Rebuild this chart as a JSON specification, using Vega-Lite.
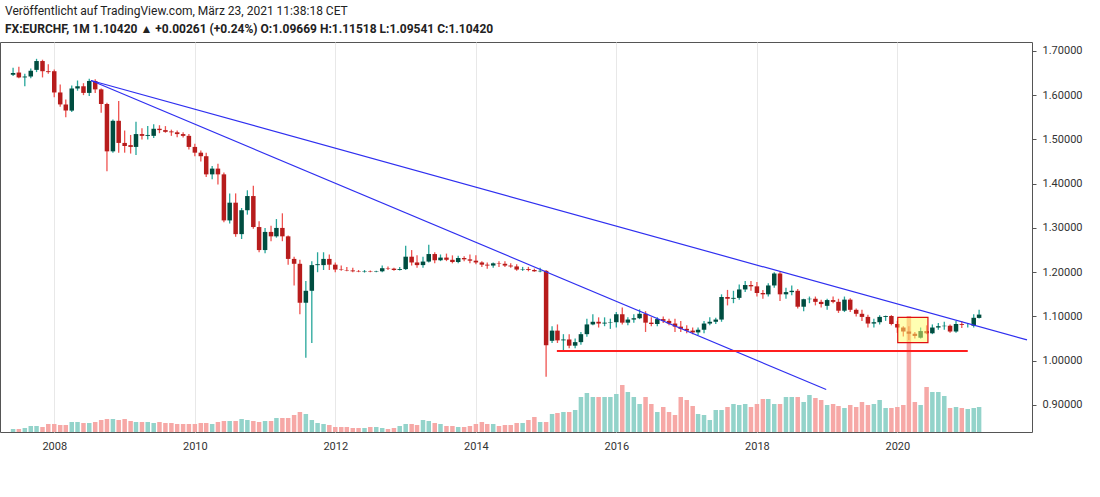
{
  "$schema": "https://vega.github.io/schema/vega-lite/v6.json",
  "width": 1032,
  "height": 390,
  "autosize": "none",
  "padding": {"left": 0, "top": 42, "right": 68, "bottom": 65},
  "background": "white",
  "config": {"view": {"stroke": "#555", "strokeWidth": 1}, "font": "Roboto"},
  "title": {
    "text": "Veröffentlicht auf TradingView.com, März 23, 2021 11:38:18 CET",
    "subtitle": "FX:EURCHF, 1M  1.10420 ▲ +0.00261 (+0.24%) O:1.09669 H:1.11518 L:1.09541 C:1.10420",
    "anchor": "start", "frame": "group", "dx": 5, "offset": 6,
    "fontSize": 12, "fontWeight": "normal", "color": "#222",
    "subtitleFontSize": 12, "subtitleFontWeight": "bold", "subtitleColor": "#222", "subtitlePadding": 6
  },
  "datasets": {
    "candles": [
      {"d":"2007-06-01","o":1.646,"h":1.662,"l":1.643,"c":1.650,"v":3},
      {"d":"2007-07-01","o":1.651,"h":1.664,"l":1.638,"c":1.640,"v":3},
      {"d":"2007-08-01","o":1.640,"h":1.648,"l":1.620,"c":1.642,"v":4},
      {"d":"2007-09-01","o":1.642,"h":1.660,"l":1.638,"c":1.655,"v":6},
      {"d":"2007-10-01","o":1.657,"h":1.682,"l":1.652,"c":1.677,"v":6},
      {"d":"2007-11-01","o":1.677,"h":1.680,"l":1.640,"c":1.654,"v":5},
      {"d":"2007-12-01","o":1.654,"h":1.670,"l":1.648,"c":1.652,"v":8},
      {"d":"2008-01-01","o":1.654,"h":1.658,"l":1.595,"c":1.606,"v":8},
      {"d":"2008-02-01","o":1.606,"h":1.624,"l":1.574,"c":1.579,"v":7},
      {"d":"2008-03-01","o":1.579,"h":1.590,"l":1.550,"c":1.565,"v":7},
      {"d":"2008-04-01","o":1.565,"h":1.622,"l":1.562,"c":1.615,"v":10},
      {"d":"2008-05-01","o":1.615,"h":1.633,"l":1.610,"c":1.620,"v":10},
      {"d":"2008-06-01","o":1.620,"h":1.627,"l":1.600,"c":1.605,"v":9},
      {"d":"2008-07-01","o":1.605,"h":1.637,"l":1.598,"c":1.632,"v":9},
      {"d":"2008-08-01","o":1.632,"h":1.636,"l":1.605,"c":1.613,"v":10},
      {"d":"2008-09-01","o":1.613,"h":1.615,"l":1.560,"c":1.580,"v":12},
      {"d":"2008-10-01","o":1.580,"h":1.583,"l":1.428,"c":1.473,"v":13},
      {"d":"2008-11-01","o":1.473,"h":1.545,"l":1.470,"c":1.542,"v":13},
      {"d":"2008-12-01","o":1.542,"h":1.587,"l":1.470,"c":1.492,"v":12},
      {"d":"2009-01-01","o":1.492,"h":1.520,"l":1.470,"c":1.485,"v":13},
      {"d":"2009-02-01","o":1.487,"h":1.510,"l":1.468,"c":1.483,"v":11},
      {"d":"2009-03-01","o":1.483,"h":1.540,"l":1.465,"c":1.512,"v":10},
      {"d":"2009-04-01","o":1.512,"h":1.525,"l":1.500,"c":1.508,"v":10},
      {"d":"2009-05-01","o":1.508,"h":1.530,"l":1.500,"c":1.510,"v":10},
      {"d":"2009-06-01","o":1.508,"h":1.534,"l":1.503,"c":1.524,"v":9},
      {"d":"2009-07-01","o":1.524,"h":1.532,"l":1.514,"c":1.521,"v":10},
      {"d":"2009-08-01","o":1.521,"h":1.530,"l":1.515,"c":1.517,"v":9},
      {"d":"2009-09-01","o":1.518,"h":1.522,"l":1.508,"c":1.516,"v":9},
      {"d":"2009-10-01","o":1.516,"h":1.520,"l":1.505,"c":1.512,"v":8},
      {"d":"2009-11-01","o":1.512,"h":1.516,"l":1.504,"c":1.508,"v":8},
      {"d":"2009-12-01","o":1.508,"h":1.512,"l":1.477,"c":1.483,"v":8},
      {"d":"2010-01-01","o":1.483,"h":1.490,"l":1.462,"c":1.470,"v":8},
      {"d":"2010-02-01","o":1.470,"h":1.475,"l":1.450,"c":1.462,"v":9},
      {"d":"2010-03-01","o":1.462,"h":1.470,"l":1.415,"c":1.421,"v":9},
      {"d":"2010-04-01","o":1.421,"h":1.440,"l":1.410,"c":1.434,"v":8},
      {"d":"2010-05-01","o":1.434,"h":1.445,"l":1.398,"c":1.421,"v":10},
      {"d":"2010-06-01","o":1.421,"h":1.425,"l":1.313,"c":1.317,"v":11},
      {"d":"2010-07-01","o":1.317,"h":1.378,"l":1.310,"c":1.357,"v":11},
      {"d":"2010-08-01","o":1.357,"h":1.378,"l":1.280,"c":1.286,"v":11},
      {"d":"2010-09-01","o":1.286,"h":1.345,"l":1.275,"c":1.340,"v":13},
      {"d":"2010-10-01","o":1.340,"h":1.385,"l":1.330,"c":1.372,"v":12},
      {"d":"2010-11-01","o":1.372,"h":1.395,"l":1.298,"c":1.302,"v":11},
      {"d":"2010-12-01","o":1.302,"h":1.315,"l":1.245,"c":1.250,"v":10},
      {"d":"2011-01-01","o":1.250,"h":1.300,"l":1.243,"c":1.291,"v":11},
      {"d":"2011-02-01","o":1.291,"h":1.305,"l":1.270,"c":1.281,"v":11},
      {"d":"2011-03-01","o":1.281,"h":1.320,"l":1.278,"c":1.300,"v":14},
      {"d":"2011-04-01","o":1.300,"h":1.333,"l":1.270,"c":1.281,"v":14},
      {"d":"2011-05-01","o":1.281,"h":1.283,"l":1.217,"c":1.230,"v":14},
      {"d":"2011-06-01","o":1.230,"h":1.235,"l":1.170,"c":1.219,"v":17},
      {"d":"2011-07-01","o":1.219,"h":1.228,"l":1.105,"c":1.131,"v":20},
      {"d":"2011-08-01","o":1.131,"h":1.180,"l":1.007,"c":1.158,"v":18},
      {"d":"2011-09-01","o":1.158,"h":1.225,"l":1.040,"c":1.216,"v":12},
      {"d":"2011-10-01","o":1.216,"h":1.245,"l":1.200,"c":1.218,"v":9},
      {"d":"2011-11-01","o":1.216,"h":1.245,"l":1.205,"c":1.230,"v":8},
      {"d":"2011-12-01","o":1.230,"h":1.240,"l":1.205,"c":1.217,"v":7},
      {"d":"2012-01-01","o":1.217,"h":1.222,"l":1.200,"c":1.206,"v":5},
      {"d":"2012-02-01","o":1.206,"h":1.215,"l":1.203,"c":1.205,"v":5},
      {"d":"2012-03-01","o":1.205,"h":1.212,"l":1.202,"c":1.204,"v":5},
      {"d":"2012-04-01","o":1.204,"h":1.210,"l":1.200,"c":1.202,"v":4},
      {"d":"2012-05-01","o":1.202,"h":1.205,"l":1.200,"c":1.201,"v":4},
      {"d":"2012-06-01","o":1.201,"h":1.205,"l":1.199,"c":1.202,"v":4},
      {"d":"2012-07-01","o":1.202,"h":1.204,"l":1.200,"c":1.201,"v":5},
      {"d":"2012-08-01","o":1.201,"h":1.203,"l":1.200,"c":1.202,"v":5},
      {"d":"2012-09-01","o":1.202,"h":1.215,"l":1.200,"c":1.209,"v":4},
      {"d":"2012-10-01","o":1.209,"h":1.213,"l":1.205,"c":1.208,"v":3},
      {"d":"2012-11-01","o":1.208,"h":1.210,"l":1.203,"c":1.205,"v":4},
      {"d":"2012-12-01","o":1.205,"h":1.212,"l":1.204,"c":1.207,"v":6},
      {"d":"2013-01-01","o":1.207,"h":1.260,"l":1.205,"c":1.235,"v":8},
      {"d":"2013-02-01","o":1.235,"h":1.250,"l":1.215,"c":1.222,"v":8},
      {"d":"2013-03-01","o":1.222,"h":1.238,"l":1.210,"c":1.216,"v":7},
      {"d":"2013-04-01","o":1.216,"h":1.235,"l":1.210,"c":1.224,"v":12},
      {"d":"2013-05-01","o":1.224,"h":1.262,"l":1.222,"c":1.241,"v":11},
      {"d":"2013-06-01","o":1.241,"h":1.245,"l":1.220,"c":1.227,"v":9},
      {"d":"2013-07-01","o":1.227,"h":1.240,"l":1.225,"c":1.233,"v":8},
      {"d":"2013-08-01","o":1.233,"h":1.242,"l":1.225,"c":1.228,"v":6},
      {"d":"2013-09-01","o":1.228,"h":1.238,"l":1.220,"c":1.223,"v":6},
      {"d":"2013-10-01","o":1.223,"h":1.237,"l":1.220,"c":1.232,"v":5},
      {"d":"2013-11-01","o":1.232,"h":1.236,"l":1.225,"c":1.229,"v":5},
      {"d":"2013-12-01","o":1.229,"h":1.240,"l":1.220,"c":1.226,"v":6},
      {"d":"2014-01-01","o":1.226,"h":1.238,"l":1.218,"c":1.222,"v":8},
      {"d":"2014-02-01","o":1.222,"h":1.225,"l":1.212,"c":1.217,"v":10},
      {"d":"2014-03-01","o":1.217,"h":1.222,"l":1.208,"c":1.215,"v":8},
      {"d":"2014-04-01","o":1.215,"h":1.222,"l":1.210,"c":1.220,"v":8},
      {"d":"2014-05-01","o":1.220,"h":1.225,"l":1.212,"c":1.219,"v":6},
      {"d":"2014-06-01","o":1.219,"h":1.225,"l":1.212,"c":1.215,"v":7},
      {"d":"2014-07-01","o":1.215,"h":1.220,"l":1.210,"c":1.213,"v":7},
      {"d":"2014-08-01","o":1.213,"h":1.218,"l":1.203,"c":1.206,"v":9},
      {"d":"2014-09-01","o":1.206,"h":1.212,"l":1.203,"c":1.207,"v":9},
      {"d":"2014-10-01","o":1.207,"h":1.212,"l":1.202,"c":1.205,"v":12},
      {"d":"2014-11-01","o":1.205,"h":1.208,"l":1.201,"c":1.202,"v":15},
      {"d":"2014-12-01","o":1.202,"h":1.210,"l":1.200,"c":1.203,"v":10},
      {"d":"2015-01-01","o":1.203,"h":1.205,"l":0.964,"c":1.035,"v":10},
      {"d":"2015-02-01","o":1.045,"h":1.078,"l":1.040,"c":1.068,"v":18},
      {"d":"2015-03-01","o":1.068,"h":1.082,"l":1.040,"c":1.046,"v":19},
      {"d":"2015-04-01","o":1.046,"h":1.060,"l":1.024,"c":1.048,"v":20},
      {"d":"2015-05-01","o":1.048,"h":1.060,"l":1.028,"c":1.034,"v":20},
      {"d":"2015-06-01","o":1.034,"h":1.050,"l":1.028,"c":1.042,"v":22},
      {"d":"2015-07-01","o":1.042,"h":1.065,"l":1.036,"c":1.060,"v":35},
      {"d":"2015-08-01","o":1.060,"h":1.095,"l":1.054,"c":1.082,"v":39},
      {"d":"2015-09-01","o":1.082,"h":1.105,"l":1.080,"c":1.088,"v":35},
      {"d":"2015-10-01","o":1.088,"h":1.098,"l":1.075,"c":1.084,"v":35},
      {"d":"2015-11-01","o":1.084,"h":1.098,"l":1.078,"c":1.086,"v":35},
      {"d":"2015-12-01","o":1.086,"h":1.095,"l":1.072,"c":1.087,"v":35},
      {"d":"2016-01-01","o":1.087,"h":1.110,"l":1.075,"c":1.105,"v":38},
      {"d":"2016-02-01","o":1.105,"h":1.120,"l":1.082,"c":1.086,"v":47},
      {"d":"2016-03-01","o":1.086,"h":1.098,"l":1.080,"c":1.093,"v":40},
      {"d":"2016-04-01","o":1.093,"h":1.105,"l":1.086,"c":1.096,"v":35},
      {"d":"2016-05-01","o":1.096,"h":1.116,"l":1.094,"c":1.106,"v":28},
      {"d":"2016-06-01","o":1.106,"h":1.112,"l":1.065,"c":1.086,"v":35},
      {"d":"2016-07-01","o":1.086,"h":1.098,"l":1.078,"c":1.083,"v":28},
      {"d":"2016-08-01","o":1.083,"h":1.098,"l":1.078,"c":1.094,"v":20},
      {"d":"2016-09-01","o":1.094,"h":1.100,"l":1.085,"c":1.090,"v":25},
      {"d":"2016-10-01","o":1.090,"h":1.095,"l":1.080,"c":1.084,"v":20},
      {"d":"2016-11-01","o":1.084,"h":1.095,"l":1.065,"c":1.077,"v":17},
      {"d":"2016-12-01","o":1.077,"h":1.090,"l":1.065,"c":1.072,"v":35},
      {"d":"2017-01-01","o":1.072,"h":1.080,"l":1.062,"c":1.068,"v":32},
      {"d":"2017-02-01","o":1.068,"h":1.075,"l":1.060,"c":1.064,"v":26},
      {"d":"2017-03-01","o":1.064,"h":1.075,"l":1.058,"c":1.070,"v":18},
      {"d":"2017-04-01","o":1.070,"h":1.090,"l":1.062,"c":1.084,"v":17},
      {"d":"2017-05-01","o":1.084,"h":1.098,"l":1.080,"c":1.088,"v":12},
      {"d":"2017-06-01","o":1.088,"h":1.097,"l":1.083,"c":1.093,"v":22},
      {"d":"2017-07-01","o":1.093,"h":1.150,"l":1.088,"c":1.144,"v":22},
      {"d":"2017-08-01","o":1.144,"h":1.160,"l":1.125,"c":1.140,"v":25},
      {"d":"2017-09-01","o":1.140,"h":1.158,"l":1.130,"c":1.142,"v":28},
      {"d":"2017-10-01","o":1.142,"h":1.172,"l":1.138,"c":1.161,"v":27},
      {"d":"2017-11-01","o":1.161,"h":1.180,"l":1.155,"c":1.171,"v":28},
      {"d":"2017-12-01","o":1.171,"h":1.180,"l":1.158,"c":1.168,"v":25},
      {"d":"2018-01-01","o":1.168,"h":1.178,"l":1.145,"c":1.153,"v":28},
      {"d":"2018-02-01","o":1.153,"h":1.160,"l":1.140,"c":1.150,"v":33},
      {"d":"2018-03-01","o":1.150,"h":1.175,"l":1.145,"c":1.170,"v":33},
      {"d":"2018-04-01","o":1.170,"h":1.200,"l":1.165,"c":1.197,"v":28},
      {"d":"2018-05-01","o":1.197,"h":1.201,"l":1.135,"c":1.150,"v":28},
      {"d":"2018-06-01","o":1.150,"h":1.165,"l":1.140,"c":1.155,"v":35},
      {"d":"2018-07-01","o":1.155,"h":1.170,"l":1.148,"c":1.158,"v":35},
      {"d":"2018-08-01","o":1.158,"h":1.162,"l":1.118,"c":1.122,"v":35},
      {"d":"2018-09-01","o":1.122,"h":1.140,"l":1.112,"c":1.139,"v":30},
      {"d":"2018-10-01","o":1.139,"h":1.145,"l":1.130,"c":1.140,"v":37},
      {"d":"2018-11-01","o":1.140,"h":1.145,"l":1.125,"c":1.133,"v":34},
      {"d":"2018-12-01","o":1.133,"h":1.138,"l":1.120,"c":1.128,"v":32},
      {"d":"2019-01-01","o":1.124,"h":1.140,"l":1.115,"c":1.137,"v":27},
      {"d":"2019-02-01","o":1.137,"h":1.145,"l":1.130,"c":1.133,"v":28},
      {"d":"2019-03-01","o":1.133,"h":1.140,"l":1.108,"c":1.113,"v":26},
      {"d":"2019-04-01","o":1.113,"h":1.145,"l":1.110,"c":1.138,"v":24},
      {"d":"2019-05-01","o":1.138,"h":1.141,"l":1.110,"c":1.115,"v":27},
      {"d":"2019-06-01","o":1.115,"h":1.118,"l":1.100,"c":1.106,"v":25},
      {"d":"2019-07-01","o":1.106,"h":1.115,"l":1.090,"c":1.099,"v":30},
      {"d":"2019-08-01","o":1.099,"h":1.104,"l":1.075,"c":1.084,"v":27},
      {"d":"2019-09-01","o":1.084,"h":1.095,"l":1.075,"c":1.087,"v":28},
      {"d":"2019-10-01","o":1.087,"h":1.103,"l":1.082,"c":1.099,"v":32},
      {"d":"2019-11-01","o":1.099,"h":1.102,"l":1.090,"c":1.101,"v":24},
      {"d":"2019-12-01","o":1.101,"h":1.103,"l":1.080,"c":1.083,"v":24},
      {"d":"2020-01-01","o":1.083,"h":1.090,"l":1.063,"c":1.075,"v":25},
      {"d":"2020-02-01","o":1.075,"h":1.078,"l":1.055,"c":1.066,"v":27},
      {"d":"2020-03-01","o":1.066,"h":1.078,"l":1.047,"c":1.061,"v":116},
      {"d":"2020-04-01","o":1.061,"h":1.065,"l":1.050,"c":1.056,"v":30},
      {"d":"2020-05-01","o":1.052,"h":1.075,"l":1.050,"c":1.067,"v":27},
      {"d":"2020-06-01","o":1.067,"h":1.080,"l":1.060,"c":1.062,"v":45},
      {"d":"2020-07-01","o":1.062,"h":1.082,"l":1.060,"c":1.075,"v":40},
      {"d":"2020-08-01","o":1.075,"h":1.085,"l":1.070,"c":1.078,"v":40},
      {"d":"2020-09-01","o":1.078,"h":1.088,"l":1.070,"c":1.079,"v":36},
      {"d":"2020-10-01","o":1.079,"h":1.082,"l":1.063,"c":1.066,"v":24},
      {"d":"2020-11-01","o":1.066,"h":1.090,"l":1.063,"c":1.083,"v":25},
      {"d":"2020-12-01","o":1.083,"h":1.090,"l":1.074,"c":1.081,"v":24},
      {"d":"2021-01-01","o":1.081,"h":1.085,"l":1.075,"c":1.081,"v":23},
      {"d":"2021-02-01","o":1.079,"h":1.105,"l":1.075,"c":1.097,"v":24},
      {"d":"2021-03-01","o":1.09669,"h":1.11518,"l":1.09541,"c":1.1042,"v":25}
    ],
    "trend": [
      {"line":"a","d":"2008-07-10","p":1.633},
      {"line":"a","d":"2021-11-05","p":1.047},
      {"line":"b","d":"2008-07-10","p":1.633},
      {"line":"b","d":"2018-12-27","p":0.935}
    ],
    "support": [
      {"d":"2015-02-26","p":1.022},
      {"d":"2021-01-01","p":1.022}
    ],
    "box": [
      {"d1":"2020-01-03","d2":"2020-06-08","p1":1.041,"p2":1.098}
    ]
  },
  "encoding": {
    "x": {
      "field": "d", "type": "temporal", "title": null,
      "scale": {"domain": ["2007-04-20", "2021-11-05"]},
      "axis": {
        "values": ["2008-01-01","2010-01-01","2012-01-01","2014-01-01","2016-01-01","2018-01-01","2020-01-01"],
        "format": "%Y", "ticks": false, "domain": false, "labelPadding": 8,
        "labelColor": "#333", "labelFontSize": 11, "gridColor": "#e8e8e8", "labelFlush": false
      }
    }
  },
  "layer": [
    {
      "data": {"name": "candles"},
      "mark": {"type": "bar", "size": 4.5},
      "encoding": {
        "y": {"field": "v", "type": "quantitative", "scale": {"domain": [0, 390]}, "axis": null},
        "color": {"condition": {"test": "datum.c >= datum.o", "value": "#93d3ca"}, "value": "#f6a8a6"}
      }
    },
    {
      "data": {"name": "candles"},
      "layer": [
        {
          "mark": {"type": "rule", "strokeWidth": 1.3},
          "encoding": {
            "y": {
              "field": "l", "type": "quantitative", "title": null,
              "scale": {"domain": [0.839, 1.72], "nice": false, "zero": false},
              "axis": {
                "orient": "right", "values": [0.9,1.0,1.1,1.2,1.3,1.4,1.5,1.6,1.7], "format": ".5f",
                "ticks": true, "tickColor": "#555", "tickSize": 4, "domain": false,
                "labelColor": "#333", "labelFontSize": 11, "labelPadding": 6, "gridColor": "#e8e8e8"
              }
            },
            "y2": {"field": "h"},
            "color": {"condition": {"test": "datum.c >= datum.o", "value": "#26a69a"}, "value": "#ef5350"}
          }
        },
        {
          "mark": {"type": "bar", "size": 4.5},
          "encoding": {
            "y": {"field": "o", "type": "quantitative"},
            "y2": {"field": "c"},
            "color": {"condition": {"test": "datum.c >= datum.o", "value": "#004d40"}, "value": "#b71c1c"}
          }
        },
        {
          "data": {"name": "trend"},
          "mark": {"type": "line", "color": "#2f2ff0", "strokeWidth": 1.2, "clip": true},
          "encoding": {
            "y": {"field": "p", "type": "quantitative"},
            "detail": {"field": "line"}
          }
        },
        {
          "data": {"name": "support"},
          "mark": {"type": "line", "color": "#ff1f1f", "strokeWidth": 2},
          "encoding": {"y": {"field": "p", "type": "quantitative"}}
        },
        {
          "data": {"name": "box"},
          "mark": {"type": "rect", "fill": "#ffff66", "fillOpacity": 0.5, "stroke": "#e01010", "strokeWidth": 1.2},
          "encoding": {
            "x": {"field": "d1", "type": "temporal"},
            "x2": {"field": "d2"},
            "y": {"field": "p1", "type": "quantitative"},
            "y2": {"field": "p2"}
          }
        }
      ]
    }
  ],
  "resolve": {"scale": {"y": "independent"}}
}
